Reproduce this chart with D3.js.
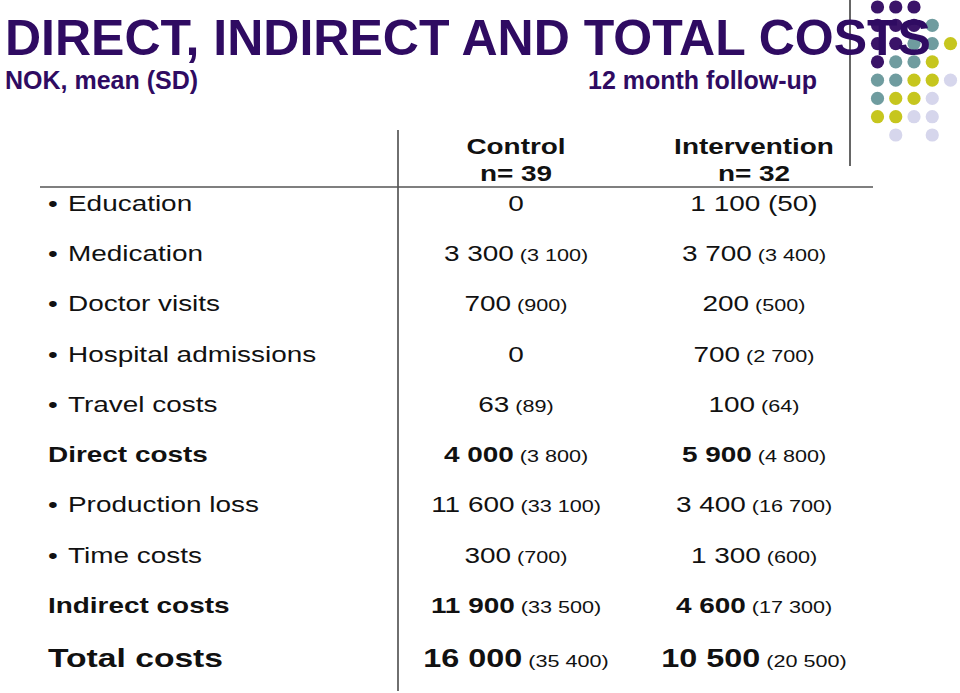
<!DOCTYPE html>
<html>
<head>
<meta charset="utf-8">
<script src="https://cdn.jsdelivr.net/npm/d3@7"></script>
<style>
  html, body { margin: 0; padding: 0; background: #fff; }
  svg { display: block; }
  text { font-family: "Liberation Sans", Arial, Helvetica, sans-serif; }
</style>
</head>
<body>
<svg id="chart" width="960" height="693"></svg>
<script>
// ---- Data ----
const title = "DIRECT, INDIRECT AND TOTAL COSTS";
const subtitle = "NOK, mean (SD)";
const followUp = "12 month follow-up";
const groups = ["Control", "Intervention"];
const groupN = ["n= 39", "n= 32"];
const categories = ["Education", "Medication", "Doctor visits", "Hospital admissions", "Travel costs",
  "Direct costs", "Production loss", "Time costs", "Indirect costs", "Total costs"];
const rowKind = ["item", "item", "item", "item", "item", "subtotal", "item", "item", "subtotal", "total"];
const controlMean = [0, 3300, 700, 0, 63, 4000, 11600, 300, 11900, 16000];
const controlSD = [null, 3100, 900, null, 89, 3800, 33100, 700, 33500, 35400];
const interventionMean = [1100, 3700, 200, 700, 100, 5900, 3400, 1300, 4600, 10500];
const interventionSD = [50, 3400, 500, 2700, 64, 4800, 16700, 600, 17300, 20500];

// ---- Drawing ----
const svg = d3.select("#chart");
const purple = "#2f0b62";
const sx = 1.27; // horizontal stretch of table text
const fmt = v => d3.format(",")(v).replace(/,/g, " ");

// decorative dot grid (top right)
const dotColors = ["#3a1468", "#6f9c9f", "#c6c61e", "#d6d6ec"];
const dotRows = [[0,1,2],[0,1,2,3],[0,1,2,3,4],[0,1,2,3],[0,1,2,3,4],[0,1,2,3],[0,1,2,3],[1,3]];
const dots = [];
dotRows.forEach((cols, r) => cols.forEach(c => {
  const s = r + c;
  const ci = s <= 3 ? 0 : s <= 5 ? 1 : s <= 7 ? 2 : 3;
  dots.push({r, c, color: dotColors[ci]});
}));
const dx = d3.scaleLinear().domain([0, 4]).range([877.5, 950.5]);
const dy = d3.scaleLinear().domain([0, 7]).range([7, 135]);
svg.append("g").selectAll("circle").data(dots).join("circle")
  .attr("cx", d => dx(d.c)).attr("cy", d => dy(d.r)).attr("r", 6.6)
  .attr("fill", d => d.color);

// top right vertical line
svg.append("line").attr("x1", 850).attr("x2", 850).attr("y1", 0).attr("y2", 166)
  .attr("stroke", "#333").attr("stroke-width", 1.5);

// title
svg.append("text").attr("x", 5).attr("y", 55).attr("font-size", 50).attr("font-weight", "bold")
  .attr("fill", purple).text(title);
svg.append("text").attr("x", 5).attr("y", 89).attr("font-size", 25).attr("font-weight", "bold")
  .attr("fill", purple).text(subtitle);
svg.append("text").attr("x", 588).attr("y", 89).attr("font-size", 25).attr("font-weight", "bold")
  .attr("fill", purple).text(followUp);

// table scales
const colX = d3.scaleOrdinal().domain(groups).range([516, 754]);
const rowY = d3.scalePoint().domain(categories).range([211, 663]);
const baseY = (d, i) => rowY(d) + (rowKind[i] === "total" ? 4 : 0);

// table lines
svg.append("line").attr("x1", 398).attr("x2", 398).attr("y1", 130).attr("y2", 691)
  .attr("stroke", "#222").attr("stroke-width", 1.3);
svg.append("line").attr("x1", 40).attr("x2", 873).attr("y1", 187).attr("y2", 187)
  .attr("stroke", "#555").attr("stroke-width", 1.6);

// headers
groups.forEach((g, i) => {
  svg.append("text").attr("transform", `translate(${colX(g)},154) scale(${sx},1)`)
    .attr("text-anchor", "middle").attr("font-size", 22).attr("font-weight", "bold").attr("fill", "#111").text(g);
  svg.append("text").attr("transform", `translate(${colX(g)},181) scale(${sx},1)`)
    .attr("text-anchor", "middle").attr("font-size", 22).attr("font-weight", "bold").attr("fill", "#111").text(groupN[i]);
});

// rows
const rows = svg.append("g").selectAll("g.row").data(categories).join("g").attr("class", "row");
rows.each(function(d, i) {
  const g = d3.select(this);
  const y = baseY(d, i);
  const kind = rowKind[i];
  if (kind === "item") {
    g.append("text").attr("transform", `translate(48,${y}) scale(${sx},1)`)
      .attr("font-size", 22).attr("fill", "#111").text("•");
    g.append("text").attr("transform", `translate(68,${y}) scale(${sx},1)`)
      .attr("font-size", 22).attr("fill", "#111").text(d);
  } else {
    g.append("text").attr("transform", `translate(48,${y}) scale(${sx},1)`)
      .attr("font-size", kind === "total" ? 26.5 : 22).attr("font-weight", "bold").attr("fill", "#111").text(d);
  }
  const cells = [[controlMean[i], controlSD[i]], [interventionMean[i], interventionSD[i]]];
  cells.forEach(([m, sd], gi) => {
    const t = g.append("text").attr("transform", `translate(${colX(groups[gi])},${y}) scale(${sx},1)`)
      .attr("text-anchor", "middle").attr("fill", "#111");
    const bold = kind !== "item";
    t.append("tspan").attr("font-size", kind === "total" ? 25.5 : 22)
      .attr("font-weight", bold ? "bold" : "normal").text(fmt(m));
    if (sd !== null) {
      const fullSize = d === "Education";
      t.append("tspan").attr("font-size", fullSize ? 22 : 17).text(" (" + fmt(sd) + ")");
    }
  });
});
</script>
</body>
</html>
